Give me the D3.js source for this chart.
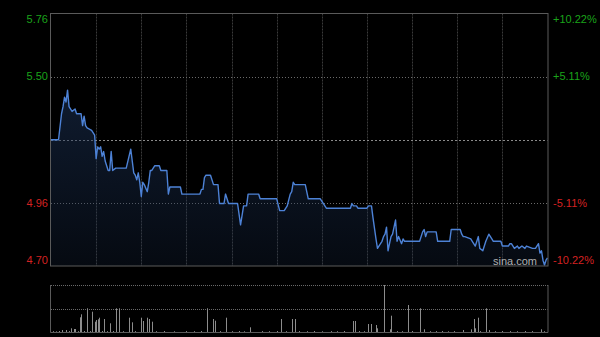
<!DOCTYPE html>
<html>
<head>
<meta charset="utf-8">
<script src="https://cdn.jsdelivr.net/npm/d3@7"></script>
<style>
  html, body { margin: 0; padding: 0; background: #000; }
  #vis { width: 600px; height: 337px; }
  text { font-family: "Liberation Sans", Arial, sans-serif; }
</style>
</head>
<body>
<div id="vis"></div>
<script>

/* Data */
/* ---- */

var prevClose = 5.23;
var pctLimit = 0.1022;

// minute from open (0 = 9:30, 150 = 12:00/13:00, 330 = 16:00), price
var priceMinutes = [0, 5, 7, 8, 9, 10, 11, 12, 14, 16, 17, 20, 21, 22, 23, 24, 27, 29, 30, 31,
  32, 33, 34, 35, 36, 37, 38, 39, 40, 41, 43, 50, 53, 54, 55, 56, 57, 58, 59, 60,
  61, 62, 64, 65, 66, 67, 69, 72, 73, 77, 78, 79, 86, 87, 99, 100, 101, 102, 103, 106,
  107, 108, 111, 112, 115, 116, 118, 124, 126, 128, 130, 131, 138, 139, 150,
  152, 155, 157, 159, 160, 161, 162, 169, 171, 179, 183, 199, 200, 201, 203, 204, 210,
  211, 213, 214, 216, 217, 219, 220, 221, 222, 223, 224, 225, 226, 227, 228, 229, 230,
  231, 233, 234, 235, 243, 245, 247, 248, 249, 250, 256, 257, 265, 266, 272, 273, 274,
  275, 279, 280, 282, 284, 285, 287, 289, 291, 293, 294, 299, 300, 304, 305, 306, 308,
  310, 311, 313, 315, 316, 320, 322, 324, 325, 326, 327, 328, 329, 330];

var prices = [5.23, 5.23, 5.34, 5.37, 5.41, 5.39, 5.44, 5.37, 5.35, 5.36, 5.34, 5.34, 5.29, 5.33, 5.29, 5.28, 5.27, 5.25, 5.15, 5.20,
  5.19, 5.20, 5.16, 5.18, 5.14, 5.12, 5.10, 5.10, 5.18, 5.10, 5.11, 5.11, 5.19, 5.14, 5.09, 5.08, 5.06, 5.09, 5.05, 4.99,
  5.05, 5.04, 5.01, 5.05, 5.10, 5.10, 5.12, 5.12, 5.10, 5.10, 5.00, 5.03, 5.03, 5.00, 5.00, 5.02, 5.02, 5.07, 5.08, 5.08,
  5.06, 5.04, 5.04, 4.96, 4.96, 5.00, 4.96, 4.96, 4.87, 4.95, 4.95, 5.00, 5.00, 4.98, 4.98,
  4.93, 4.93, 4.95, 5.00, 5.01, 5.05, 5.04, 5.04, 4.98, 4.98, 4.94, 4.94, 4.96, 4.95, 4.95, 4.94, 4.94,
  4.95, 4.95, 4.90, 4.81, 4.77, 4.79, 4.80, 4.82, 4.83, 4.86, 4.76, 4.79, 4.82, 4.83, 4.86, 4.89, 4.80,
  4.82, 4.79, 4.81, 4.80, 4.80, 4.80, 4.84, 4.85, 4.82, 4.84, 4.84, 4.80, 4.80, 4.85, 4.85, 4.83, 4.82,
  4.82, 4.81, 4.80, 4.78, 4.82, 4.77, 4.76, 4.80, 4.83, 4.81, 4.80, 4.80, 4.78, 4.78, 4.79, 4.79, 4.77,
  4.78, 4.77, 4.78, 4.77, 4.78, 4.77, 4.77, 4.79, 4.75, 4.76, 4.72, 4.70, 4.72, 4.73];

// volume bars (thousand shares)
var volMinutes = [1, 3, 5, 7, 10, 12, 13, 15, 16, 18, 19, 20, 22, 24, 26, 27, 29, 30, 31, 32,
  34, 35, 37, 39, 41, 43, 45, 48, 52, 54, 56, 60, 61, 64, 65, 67, 70, 75, 82, 90,
  95, 100, 104, 108, 109, 112, 116, 120, 125, 128, 132, 140, 145, 150, 153, 156, 160, 162, 165, 170,
  175, 180, 186, 190, 195, 201, 202, 205, 208, 211, 213, 216, 217, 221, 225, 226, 230, 233, 237, 240,
  245, 248, 252, 256, 260, 264, 268, 274, 279, 281, 282, 284, 285, 289, 291, 295, 300, 305, 310, 315,
  320, 326, 328];

var volumes = [8, 6, 10, 20, 20, 9, 37, 30, 30, 8, 147, 177, 10, 237, 9, 203, 103, 120, 127, 143,
  10, 130, 8, 87, 10, 237, 237, 8, 143, 97, 9, 143, 110, 143, 130, 103, 8, 10, 7, 9,
  8, 10, 237, 130, 113, 9, 143, 8, 10, 7, 47, 9, 8, 10, 130, 8, 130, 130, 9, 8,
  10, 7, 9, 8, 10, 110, 110, 9, 8, 80, 80, 70, 37, 470, 27, 163, 9, 8, 270, 10,
  237, 27, 8, 9, 10, 7, 9, 20, 27, 130, 37, 143, 9, 237, 20, 8, 10, 9, 8, 10,
  9, 27, 8];

var leftLabels = ['5.76', '5.50', '4.96', '4.70'];
var rightLabels = ['+10.22%', '+5.11%', '-5.11%', '-10.22%'];
var labelPct = [pctLimit, pctLimit / 2, -pctLimit / 2, -pctLimit];


/* Setup */
/* ----- */

var vis = {};
vis.dims = { left: 51, right: 547.5, top: 13.5, bottom: 266, vTop: 285, vBottom: 332 };

var svg = d3.select('#vis').append('svg')
    .attr('width', 600)
    .attr('height', 337);

svg.append('rect').attr('width', 600).attr('height', 337).attr('fill', '#000');

var x = d3.scaleLinear().domain([0, 330]).range([vis.dims.left, vis.dims.right]);
var y = d3.scaleLinear()
    .domain([prevClose * (1 - pctLimit), prevClose * (1 + pctLimit)])
    .range([vis.dims.bottom, vis.dims.top]);
var yVol = d3.scaleLinear().domain([0, d3.max(volumes)]).range([vis.dims.vBottom, vis.dims.vTop]);

var data = priceMinutes.map(function(m, i) { return { m: m, p: prices[i] }; });
var volData = volMinutes.map(function(m, i) { return { m: m, v: volumes[i] }; });


/* Grid */
/* ---- */

var grid = svg.append('g').attr('class', 'grid');

grid.selectAll('.vgrid')
  .data(d3.range(30, 330, 30))
  .enter().append('line')
    .attr('x1', function(d) { return Math.round(x(d)) + 0.5; })
    .attr('x2', function(d) { return Math.round(x(d)) + 0.5; })
    .attr('y1', vis.dims.top)
    .attr('y2', vis.dims.bottom)
    .attr('stroke', '#3a3a3a')
    .attr('stroke-dasharray', '2,1');

grid.selectAll('.hgrid')
  .data([pctLimit / 2, 0, -pctLimit / 2])
  .enter().append('line')
    .attr('x1', vis.dims.left)
    .attr('x2', vis.dims.right)
    .attr('y1', function(d) { return Math.round(y(prevClose * (1 + d))) + 0.5; })
    .attr('y2', function(d) { return Math.round(y(prevClose * (1 + d))) + 0.5; })
    .attr('stroke', function(d) { return d === 0 ? '#8a8a8a' : '#6a6a6a'; })
    .attr('stroke-dasharray', function(d) { return d === 0 ? '2,2' : '1,2'; });


/* Price area + line */
/* ----------------- */

var defs = svg.append('defs');
var grad = defs.append('linearGradient').attr('id', 'areaGrad')
    .attr('x1', 0).attr('y1', 0).attr('x2', 0).attr('y2', 1);
grad.append('stop').attr('offset', '0%').attr('stop-color', '#1c3256').attr('stop-opacity', 0.55);
grad.append('stop').attr('offset', '100%').attr('stop-color', '#1c3256').attr('stop-opacity', 0.2);

var area = d3.area()
    .x(function(d) { return x(d.m); })
    .y0(vis.dims.bottom)
    .y1(function(d) { return y(d.p); });

var line = d3.line()
    .x(function(d) { return x(d.m); })
    .y(function(d) { return y(d.p); });

svg.append('path')
    .datum(data)
    .attr('d', area)
    .attr('fill', 'url(#areaGrad)');

svg.append('path')
    .datum(data)
    .attr('d', line)
    .attr('fill', 'none')
    .attr('stroke', '#4d82d6')
    .attr('stroke-width', 1.4)
    .attr('stroke-linejoin', 'round');


/* Frame */
/* ----- */

svg.append('rect')
    .attr('x', vis.dims.left - 0.5)
    .attr('y', vis.dims.top)
    .attr('width', vis.dims.right - vis.dims.left + 1)
    .attr('height', vis.dims.bottom - vis.dims.top)
    .attr('fill', 'none')
    .attr('stroke', '#5a5a5a');


/* Labels */
/* ------ */

function labelColour(pct) { return pct > 0 ? '#1aa31a' : '#d42222'; }
function labelY(pct, i) {
  var yy = y(prevClose * (1 + pct));
  if (i === 0) yy += 5.5;
  if (i === labelPct.length - 1) yy -= 6;
  return yy;
}

svg.selectAll('.lab-left')
  .data(leftLabels)
  .enter().append('text')
    .attr('x', 48)
    .attr('y', function(d, i) { return labelY(labelPct[i], i); })
    .attr('dy', '0.35em')
    .attr('text-anchor', 'end')
    .attr('font-size', 11)
    .attr('fill', function(d, i) { return labelColour(labelPct[i]); })
    .text(function(d) { return d; });

svg.selectAll('.lab-right')
  .data(rightLabels)
  .enter().append('text')
    .attr('x', 553)
    .attr('y', function(d, i) { return labelY(labelPct[i], i); })
    .attr('dy', '0.35em')
    .attr('text-anchor', 'start')
    .attr('font-size', 11)
    .attr('fill', function(d, i) { return labelColour(labelPct[i]); })
    .text(function(d) { return d; });

svg.append('text')
    .attr('x', 537)
    .attr('y', 261)
    .attr('dy', '0.35em')
    .attr('text-anchor', 'end')
    .attr('font-size', 11)
    .attr('fill', '#b0b0b0')
    .text('sina.com');


/* Volume */
/* ------ */

var vol = svg.append('g').attr('class', 'volume');

vol.append('line')
    .attr('x1', vis.dims.left).attr('x2', vis.dims.right + 0.5)
    .attr('y1', vis.dims.vTop + 0.5).attr('y2', vis.dims.vTop + 0.5)
    .attr('stroke', '#6a6a6a').attr('stroke-dasharray', '1,1');

vol.append('line')
    .attr('x1', vis.dims.left).attr('x2', vis.dims.right)
    .attr('y1', Math.round((vis.dims.vTop + vis.dims.vBottom) / 2) + 0.5)
    .attr('y2', Math.round((vis.dims.vTop + vis.dims.vBottom) / 2) + 0.5)
    .attr('stroke', '#6a6a6a').attr('stroke-dasharray', '1,1');

vol.selectAll('.bar')
  .data(volData)
  .enter().append('line')
    .attr('x1', function(d) { return Math.round(x(d.m)) + 0.5; })
    .attr('x2', function(d) { return Math.round(x(d.m)) + 0.5; })
    .attr('y1', vis.dims.vBottom)
    .attr('y2', function(d) { return yVol(d.v); })
    .attr('stroke', '#8c8c8c');

vol.append('path')
    .attr('d', 'M' + (vis.dims.left - 0.5) + ',' + vis.dims.vTop +
      'V' + (vis.dims.vBottom + 0.5) + 'H' + (vis.dims.right + 0.5) + 'V' + vis.dims.vTop)
    .attr('fill', 'none')
    .attr('stroke', '#5a5a5a');

</script>
</body>
</html>
